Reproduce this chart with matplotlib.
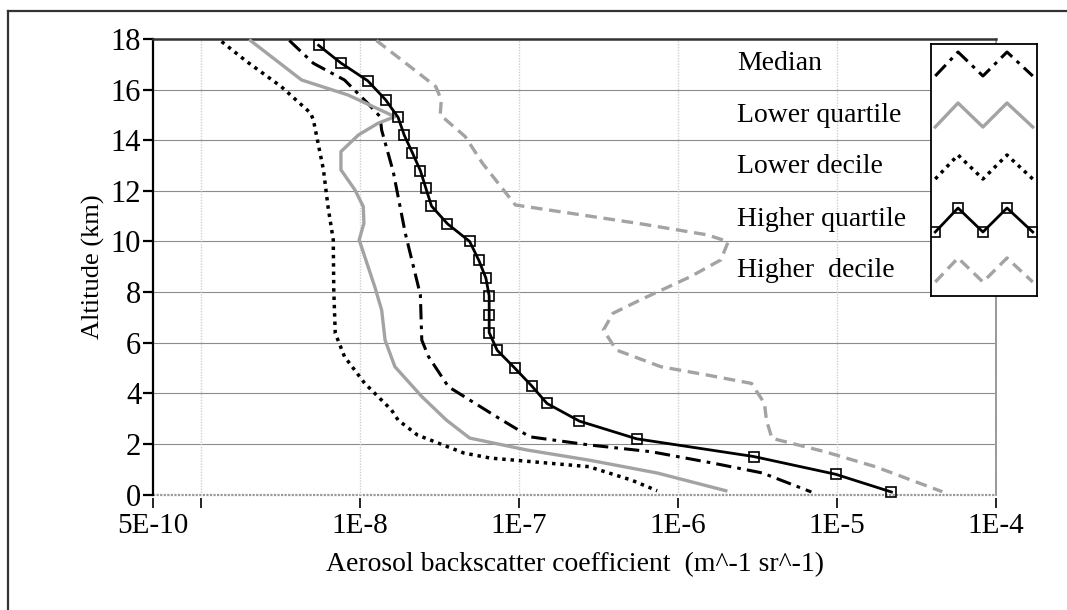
import matplotlib
matplotlib.use('Agg')
import matplotlib.pyplot as plt
from matplotlib.lines import Line2D

plt.rcParams['font.family'] = ['Liberation Serif', 'DejaVu Serif']

# profiles: backscatter (m^-1 sr^-1) vs altitude (km)
median_alt = [17.94, 17.04, 16.38, 15.46, 14.93, 14.4, 12.76, 10.32, 7.89, 6.1, 5.45, 4.26,
              3.01, 2.28, 1.96, 1.69, 1.24, 0.85, 0.1]
median_val = [3.6e-9, 5.1e-9, 8.0e-9, 1.12e-8, 1.34e-8, 1.37e-8, 1.62e-8, 1.93e-8, 2.4e-8,
              2.45e-8, 2.7e-8, 3.6e-8, 7.5e-8, 1.17e-7, 2.75e-7, 6.8e-7, 1.66e-6, 3.4e-6, 6.9e-6]

lq_alt = [17.94, 16.38, 15.79, 14.93, 14.67, 14.21, 13.55, 12.83, 12.04, 11.38, 10.72, 10.06,
          8.21, 7.29, 6.1, 5.05, 3.87, 2.94, 2.23, 1.76, 1.36, 0.85, 0.15]
lq_val = [2.05e-9, 4.3e-9, 8.4e-9, 1.66e-8, 1.3e-8, 9.8e-9, 7.6e-9, 7.6e-9, 9.3e-9, 1.05e-8,
          1.06e-8, 9.9e-9, 1.24e-8, 1.37e-8, 1.44e-8, 1.66e-8, 2.45e-8, 3.5e-8, 4.9e-8, 1.12e-7,
          2.75e-7, 7.4e-7, 2.0e-6]

ld_alt = [17.9, 17.1, 16.12, 15.07, 14.8, 12.83, 11.38, 10.06, 8.08, 6.37, 5.45, 4.4, 3.34,
          2.94, 2.35, 1.64, 1.44, 1.1, 0.57, 0.15]
ld_val = [1.35e-9, 1.95e-9, 3.2e-9, 4.9e-9, 5.1e-9, 5.9e-9, 6.3e-9, 6.8e-9, 6.85e-9, 7.0e-9,
          8.0e-9, 1.07e-8, 1.58e-8, 1.74e-8, 2.3e-8, 4.5e-8, 6.6e-8, 2.75e-7, 5.1e-7, 7.4e-7]

hq_alt = [17.75, 17.05, 16.35, 15.6, 14.9, 14.2, 13.5, 12.8, 12.1, 11.4, 10.7, 10.0, 9.25,
          8.55, 7.85, 7.1, 6.4, 5.7, 5.0, 4.3, 3.6, 2.9, 2.2, 1.5, 0.8, 0.1]
hq_val = [5.5e-9, 7.6e-9, 1.12e-8, 1.45e-8, 1.74e-8, 1.9e-8, 2.14e-8, 2.4e-8, 2.6e-8, 2.82e-8,
          3.55e-8, 4.9e-8, 5.6e-8, 6.2e-8, 6.5e-8, 6.5e-8, 6.5e-8, 7.3e-8, 9.4e-8, 1.2e-7,
          1.5e-7, 2.4e-7, 5.5e-7, 3.0e-6, 9.8e-6, 2.2e-5]

hd_alt = [17.94, 16.65, 16.12, 15.59, 15.0, 14.14, 13.09, 11.44, 10.7, 10.26, 9.99, 9.27,
          8.61, 7.69, 7.16, 6.5, 5.71, 5.05, 4.72, 4.39, 3.6, 2.94, 2.22, 1.69, 1.1, 0.11]
hd_val = [1.27e-8, 2.34e-8, 3.0e-8, 3.25e-8, 3.2e-8, 4.6e-8, 5.9e-8, 9.5e-8, 5.8e-7, 1.53e-6,
          2.07e-6, 1.86e-6, 1.2e-6, 5.8e-7, 3.9e-7, 3.4e-7, 4.1e-7, 7.8e-7, 1.53e-6, 2.9e-6,
          3.5e-6, 3.6e-6, 3.9e-6, 8.4e-6, 1.74e-5, 4.6e-5]

labels = ['Median', 'Lower quartile', 'Lower decile', 'Higher quartile', 'Higher  decile']
xticks = [5e-10, 1e-9, 1e-8, 1e-7, 1e-6, 1e-5, 1e-4]
xtick_labels = ['5E-10', '', '1E-8', '1E-7', '1E-6', '1E-5', '1E-4']
yticks = [0, 2, 4, 6, 8, 10, 12, 14, 16, 18]

GRAY = '#a3a3a3'
styles = [
    dict(color='black', lw=2.2, dashes=(5, 2.0, 1.2, 2.0)),
    dict(color=GRAY, lw=2.4, linestyle='-'),
    dict(color='black', lw=2.5, dashes=(1.0, 1.4)),
    dict(color='black', lw=2.0, linestyle='-', marker='s', ms=7, mfc='none',
         mec='black', mew=1.2),
    dict(color=GRAY, lw=2.4, dashes=(3.5, 2.0)),
]
series = [(median_val, median_alt), (lq_val, lq_alt), (ld_val, ld_alt),
          (hq_val, hq_alt), (hd_val, hd_alt)]

W, H = 1067, 610
fig = plt.figure(figsize=(W / 100, H / 100), dpi=100)
ax = fig.add_axes([153 / W, 1 - 494.5 / H, (996 - 153) / W, (494.5 - 39) / H])

for (v, a), st in zip(series, styles):
    ax.plot(v, a, clip_on=False, zorder=3, **st)

ax.set_xscale('log')
ax.set_xlim(5e-10, 1e-4)
ax.set_ylim(0, 18)
ax.set_xticks(xticks)
ax.set_xticklabels(xtick_labels)
ax.xaxis.set_minor_locator(matplotlib.ticker.NullLocator())
ax.set_yticks(yticks)

# grid
for y in yticks[1:-1]:
    ax.axhline(y, color='#8c8c8c', lw=0.8, zorder=1)
ax.axhline(0, color='#9a9a9a', lw=1.6, ls=(0, (1, 0.6)), zorder=1, clip_on=False)
for x in xticks[1:-1]:
    ax.axvline(x, color='#d0d0d0', lw=1.0, ls=(0, (1, 1)), zorder=1)

ax.spines['left'].set_linewidth(1.6)
ax.spines['top'].set_linewidth(1.8)
ax.spines['top'].set_color('#333333')
ax.spines['right'].set_color('#9a9a9a')
ax.spines['right'].set_linewidth(1.4)
ax.spines['right'].set_linestyle((0, (1, 0.6)))
ax.spines['bottom'].set_position(('outward', 2.5))
ax.spines['bottom'].set_visible(False)

ax.tick_params(axis='x', direction='out', length=7, width=1.2, pad=4, labelsize=21)
ax.tick_params(axis='y', direction='out', length=7, width=1.6, pad=1.5, labelsize=22)
ax.set_xlabel('Aerosol backscatter coefficient  (m^-1 sr^-1)', fontsize=20, labelpad=9)
ax.set_ylabel('Altitude (km)', fontsize=19, labelpad=4)

# legend: labels outside the box, zigzag samples inside
lax = fig.add_axes([931 / W, 1 - 296 / H, 106 / W, 252 / H], zorder=5)
lax.set_xlim(0, 1)
lax.set_ylim(296, 44)
lax.set_xticks([])
lax.set_yticks([])
for s in lax.spines.values():
    s.set_linewidth(1.3)
zx = [0.04, 0.255, 0.49, 0.717, 0.96]
zoff = [12, -12, 12, -12, 12]
row_y = [64, 115, 167, 220, 270]
for yc, st, lab in zip(row_y, styles, labels):
    lax.plot(zx, [yc + o for o in zoff], **st)
    fig.text(737 / W, 1 - yc / H, lab, fontsize=20, ha='left', va='center')

# outer frame
fig.add_artist(Line2D([8 / W, 1], [1 - 11 / H, 1 - 11 / H], color='#333333', lw=1.6))
fig.add_artist(Line2D([8 / W, 8 / W], [0, 1 - 11 / H], color='#333333', lw=1.6))

fig.savefig('out.png', dpi=100)
